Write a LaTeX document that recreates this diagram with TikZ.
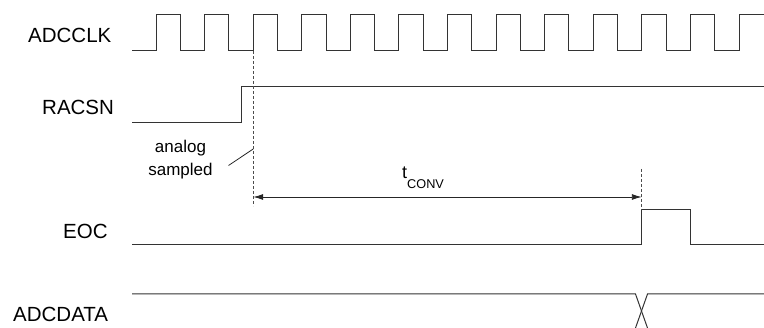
\documentclass[tikz,border=0pt]{standalone}
\usepackage{fontspec}
\setmainfont{Liberation Sans}
\usetikzlibrary{arrows.meta}
\begin{document}
\begin{tikzpicture}[x=1pt,y=-1pt,
  sig/.style={line width=1pt,draw=black!80,line join=miter},
  lbl/.style={inner sep=0pt,anchor=west,font=\fontsize{20.5}{24}\selectfont},
  note/.style={inner sep=0pt,font=\fontsize{17}{20}\selectfont},
  guide/.style={line width=0.8pt,draw=black!70,dash pattern=on 3pt off 2pt},
  dim/.style={line width=0.9pt,draw=black!85,{Latex[length=10pt,width=6pt]}-{Latex[length=10pt,width=6pt]}}]
\useasboundingbox (0,0) rectangle (764,328);
% labels
\node[lbl] (lclk) at (28,35) {ADCCLK};
\node[lbl] (lrac) at (42,107.5) {RACSN};
\node[lbl] (leoc) at (63,231) {EOC};
\node[lbl] (ldat) at (13,314) {ADCDATA};
% ADCCLK
\draw[sig] (132,51) foreach \k in {0,...,11} {
  -- ({156+48.58*\k},51) -- ({156+48.58*\k},15) -- ({180.3+48.58*\k},15) -- ({180.3+48.58*\k},51) }
  -- (739,51) -- (739,15) -- (764,15);
% RACSN
\draw[sig] (132,123) -- (241,123) -- (241,87) -- (764,87);
% EOC
\draw[sig] (132,245) -- (641.8,245) -- (641.8,209.5) -- (690.4,209.5) -- (690.4,245) -- (764,245);
% ADCDATA
\draw[sig] (132,294) -- (635.5,294) -- (647.5,328);
\draw[sig] (764,294) -- (647.5,294) -- (635.5,328);
% guides
\coordinate (s1) at (253.2,51);
\coordinate (s2) at (253.2,206);
\coordinate (e1) at (641.8,169);
\coordinate (e2) at (641.8,209.5);
\draw[guide] (s1) -- (s2);
\draw[guide] (e1) -- (e2);
\coordinate (a1) at (253.2,197);
\coordinate (a2) at (641.8,197);
\draw[dim] (a1) -- (a2);
\node[inner sep=0pt,anchor=base west,font=\fontsize{18}{20}\selectfont] (tc) at (402,178.5) {t\raisebox{-9.8pt}{\fontsize{12.7}{14}\selectfont CONV}};
% note
\node[note] (n1) at (180.5,148) {analog};
\node[note] (n2) at (180.5,171) {sampled};
\coordinate (p1) at (228.5,165.5);
\coordinate (p2) at (253.2,149);
\draw[line width=0.8pt,black!85] (p1) -- (p2);
\end{tikzpicture}
\end{document}
